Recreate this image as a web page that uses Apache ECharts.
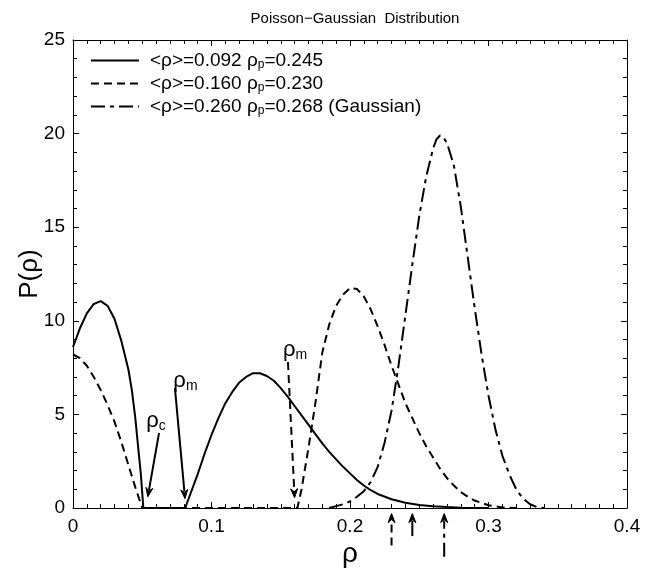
<!DOCTYPE html>
<html>
<head>
<meta charset="utf-8">
<script src="https://cdn.jsdelivr.net/npm/echarts@6/dist/echarts.min.js"></script>
<style>html,body{margin:0;padding:0;background:#fff}#c{width:649px;height:570px}</style>
</head>
<body>
<div id="c"></div>
<script>
// ---- data ----
const titleText = 'Poisson\u2212Gaussian  Distribution';
const xTicks = [0, 0.1, 0.2, 0.3, 0.4];
const yTicks = [0, 5, 10, 15, 20, 25];

const seriesNames = ['s092', 's160', 's260'];
const legendTexts = [
  '<\u03c1>=0.092 \u03c1{sub|p}=0.245',
  '<\u03c1>=0.160 \u03c1{sub|p}=0.230',
  '<\u03c1>=0.260 \u03c1{sub|p}=0.268 (Gaussian)'
];

// <rho>=0.092 (solid)
const rhoA = [0, 0.005, 0.01, 0.015, 0.02, 0.025, 0.03, 0.035, 0.04, 0.0425, 0.045, 0.0475, 0.049, 0.0508, 0.06, 0.07, 0.081,
  0.085, 0.09, 0.095, 0.1, 0.105, 0.11, 0.115, 0.12, 0.125, 0.13, 0.135, 0.14, 0.145, 0.15, 0.155, 0.16, 0.165,
  0.17, 0.175, 0.18, 0.185, 0.19, 0.195, 0.2, 0.205, 0.21, 0.215, 0.22, 0.23, 0.24, 0.25, 0.26, 0.27, 0.28, 0.3];
const pA = [8.6, 9.6, 10.4, 10.9, 11.05, 10.8, 10.1, 8.9, 7.4, 6.3, 4.8, 2.9, 1.8, 0, 0, 0, 0,
  0.8, 1.8, 2.9, 3.9, 4.8, 5.6, 6.2, 6.7, 7.0, 7.2, 7.2, 7.05, 6.8, 6.4, 5.95, 5.45, 4.95,
  4.45, 3.95, 3.45, 3.0, 2.6, 2.2, 1.85, 1.5, 1.2, 0.95, 0.75, 0.47, 0.28, 0.16, 0.09, 0.05, 0.02, 0];

// <rho>=0.160 (dashed)
const rhoB = [0, 0.005, 0.01, 0.015, 0.02, 0.025, 0.03, 0.035, 0.04, 0.045, 0.05, 0.08, 0.12, 0.162,
  0.165, 0.17, 0.175, 0.18, 0.185, 0.19, 0.195, 0.2, 0.205, 0.21, 0.215, 0.22, 0.225, 0.23, 0.235, 0.24,
  0.245, 0.25, 0.255, 0.26, 0.265, 0.27, 0.275, 0.28, 0.285, 0.29, 0.3, 0.31, 0.32];
const pB = [8.2, 8.0, 7.6, 7.0, 6.3, 5.5, 4.6, 3.5, 2.3, 1.1, 0, 0, 0, 0,
  1.0, 3.2, 5.6, 8.3, 9.8, 10.8, 11.4, 11.75, 11.7, 11.3, 10.6, 9.7, 8.7, 7.6, 6.6, 5.6,
  4.8, 4.0, 3.3, 2.7, 2.1, 1.6, 1.2, 0.85, 0.6, 0.4, 0.15, 0.03, 0];

// <rho>=0.260 (Gaussian, dash-dot)
const rhoC = [0.185, 0.19, 0.195, 0.2, 0.205, 0.21, 0.215, 0.22, 0.225, 0.23, 0.235, 0.24, 0.245, 0.25, 0.255,
  0.26, 0.2625, 0.265, 0.2675, 0.27, 0.275, 0.28, 0.285, 0.29, 0.295, 0.3, 0.305, 0.31, 0.315, 0.32, 0.325, 0.33, 0.335, 0.34];
const pC = [0, 0.1, 0.2, 0.35, 0.6, 0.9, 1.4, 2.2, 3.5, 5.2, 7.6, 10.3, 13.0, 15.6, 17.7,
  19.2, 19.7, 19.9, 19.8, 19.5, 18.3, 16.1, 13.4, 10.7, 8.2, 6.0, 4.2, 2.8, 1.8, 1.0, 0.5, 0.2, 0.05, 0];

// annotations (data coordinates)
const labelTexts = ['\u03c1{sub|c}', '\u03c1{sub|m}', '\u03c1{sub|m}'];
const labelAt = [[0.0599, 4.65], [0.0812, 6.8], [0.1603, 8.45]];
const arrowFrom = [[0.0621, 4.0], [0.0736, 6.4], [0.1552, 7.8]];
const arrowTo = [[0.0540, 0.6], [0.0809, 0.5], [0.1600, 0.55]];
const arrowDash = ['solid', 'solid', 'dashed'];
// rho_p markers below the axis
const pMarkRho = [0.230, 0.245, 0.268];
const pMarkTail = [-2.0, -1.5, -2.6];
const pMarkDash = ['dashed', 'solid', 'dashdot'];

// ---- styles ----
const FONT = 'Liberation Sans, Arial, Helvetica, sans-serif';
const dashOf = { solid: 'solid', dashed: [8, 5], dashdot: [14, 5, 4, 5] };
const styles = ['solid', 'dashed', 'dashdot'];

function zip(xs, ys) { return xs.map((x, i) => [x, ys[i]]); }
const datas = [zip(rhoA, pA), zip(rhoB, pB), zip(rhoC, pC)];

const chart = echarts.init(document.getElementById('c'), null, { renderer: 'canvas' });

const axisCommon = {
  axisLine: { show: true, onZero: false, lineStyle: { color: '#000', width: 1 } },
  splitLine: { show: false },
};

const option = {
  backgroundColor: '#fff',
  animation: false,
  title: {
    text: titleText, left: 350, textAlign: 'center', top: 6,
    textStyle: { fontFamily: FONT, fontSize: 15, fontWeight: 'normal', color: '#000' }
  },
  grid: { left: 73, right: 22, top: 40, bottom: 62, containLabel: false, outerBoundsMode: 'none' },
  legend: {
    orient: 'vertical', left: 85, top: 46, itemWidth: 48, itemHeight: 14, itemGap: 3,
    data: seriesNames,
    itemStyle: { opacity: 0, borderWidth: 0 },
    formatter: name => legendTexts[seriesNames.indexOf(name)],
    textStyle: {
      fontFamily: FONT, fontSize: 19, color: '#000', padding: [0, 0, 0, 6],
      rich: { sub: { fontFamily: FONT, fontSize: 12, verticalAlign: 'bottom', padding: [9, 0, 0, 0], color: '#000' } }
    }
  },
  xAxis: [
    Object.assign({
      type: 'value', min: xTicks[0], max: xTicks[xTicks.length - 1], interval: 0.1, position: 'bottom',
      name: '\u03c1', nameLocation: 'middle', nameGap: 32, nameMoveOverlap: false,
      nameTextStyle: { fontFamily: FONT, fontSize: 28, color: '#000' },
      axisTick: { show: true, inside: true, length: 6, lineStyle: { color: '#000' } },
      minorTick: { show: true, splitNumber: 10, length: 4, lineStyle: { color: '#000' } },
      axisLabel: { fontFamily: FONT, fontSize: 19, color: '#000', margin: 9,
        formatter: v => (v === 0 ? '0' : String(+v.toFixed(2))) }
    }, axisCommon),
    Object.assign({
      type: 'value', min: xTicks[0], max: xTicks[xTicks.length - 1], interval: 0.1, position: 'top',
      axisTick: { show: true, inside: true, length: 6, lineStyle: { color: '#000' } },
      minorTick: { show: true, splitNumber: 10, length: 4, lineStyle: { color: '#000' } },
      axisLabel: { show: false }
    }, axisCommon)
  ],
  yAxis: [
    Object.assign({
      type: 'value', min: yTicks[0], max: yTicks[yTicks.length - 1], interval: 5, position: 'left',
      name: 'P(\u03c1)', nameLocation: 'middle', nameGap: 30, nameRotate: 90, nameMoveOverlap: false,
      nameTextStyle: { fontFamily: FONT, fontSize: 26, color: '#000' },
      axisTick: { show: true, inside: true, length: 6, lineStyle: { color: '#000' } },
      minorTick: { show: true, splitNumber: 5, length: 4, lineStyle: { color: '#000' } },
      axisLabel: { fontFamily: FONT, fontSize: 19, color: '#000', margin: 8 }
    }, axisCommon),
    Object.assign({
      type: 'value', min: yTicks[0], max: yTicks[yTicks.length - 1], interval: 5, position: 'right',
      axisTick: { show: true, inside: true, length: 6, lineStyle: { color: '#000' } },
      minorTick: { show: true, splitNumber: 5, length: 4, lineStyle: { color: '#000' } },
      axisLabel: { show: false }
    }, axisCommon)
  ],
  series: seriesNames.map((n, i) => ({
    name: n, type: 'line', xAxisIndex: 0, yAxisIndex: 0,
    data: datas[i], showSymbol: false, symbol: 'none', smooth: false, clip: false,
    color: '#000',
    lineStyle: { color: '#000', width: 2, type: dashOf[styles[i]] },
    z: 3
  }))
};
chart.setOption(option);

// ---- annotations placed through the chart's own scales ----
function px(pt) { return chart.convertToPixel({ xAxisIndex: 0, yAxisIndex: 0 }, pt); }
function arrow(from, to, dash) {
  const a = px(from), b = px(to);
  const dx = b[0] - a[0], dy = b[1] - a[1];
  const L = Math.hypot(dx, dy), ux = dx / L, uy = dy / L;
  const hl = 9, hw = 3.5;
  const base = [b[0] - ux * hl, b[1] - uy * hl];
  const els = [];
  els.push({ type: 'line', silent: true, z: 10,
    shape: { x1: a[0], y1: a[1], x2: base[0] + ux * 2, y2: base[1] + uy * 2 },
    style: { stroke: '#000', lineWidth: 2, lineDash: dash === 'solid' ? null : dashOf[dash] } });
  els.push({ type: 'polygon', silent: true, z: 10,
    shape: { points: [b, [base[0] - uy * hw, base[1] + ux * hw], [base[0] + ux * 3, base[1] + uy * 3], [base[0] + uy * hw, base[1] - ux * hw]] },
    style: { fill: '#000', stroke: '#000', lineWidth: 1 } });
  return els;
}
let g = [];
labelTexts.forEach((t, i) => {
  const p = px(labelAt[i]);
  g.push({ type: 'text', silent: true, z: 10, x: p[0], y: p[1],
    style: { text: t, align: 'center', verticalAlign: 'middle', fill: '#000',
      font: '22px ' + FONT,
      rich: { sub: { fontSize: 14, fontFamily: FONT, fill: '#000', verticalAlign: 'bottom', padding: [10, 0, 0, 0] } } } });
  g = g.concat(arrow(arrowFrom[i], arrowTo[i], arrowDash[i]));
});
pMarkRho.forEach((r, i) => {
  g = g.concat(arrow([r, pMarkTail[i]], [r, -0.3], pMarkDash[i]));
});
chart.setOption({ graphic: g });
</script>
</body>
</html>
